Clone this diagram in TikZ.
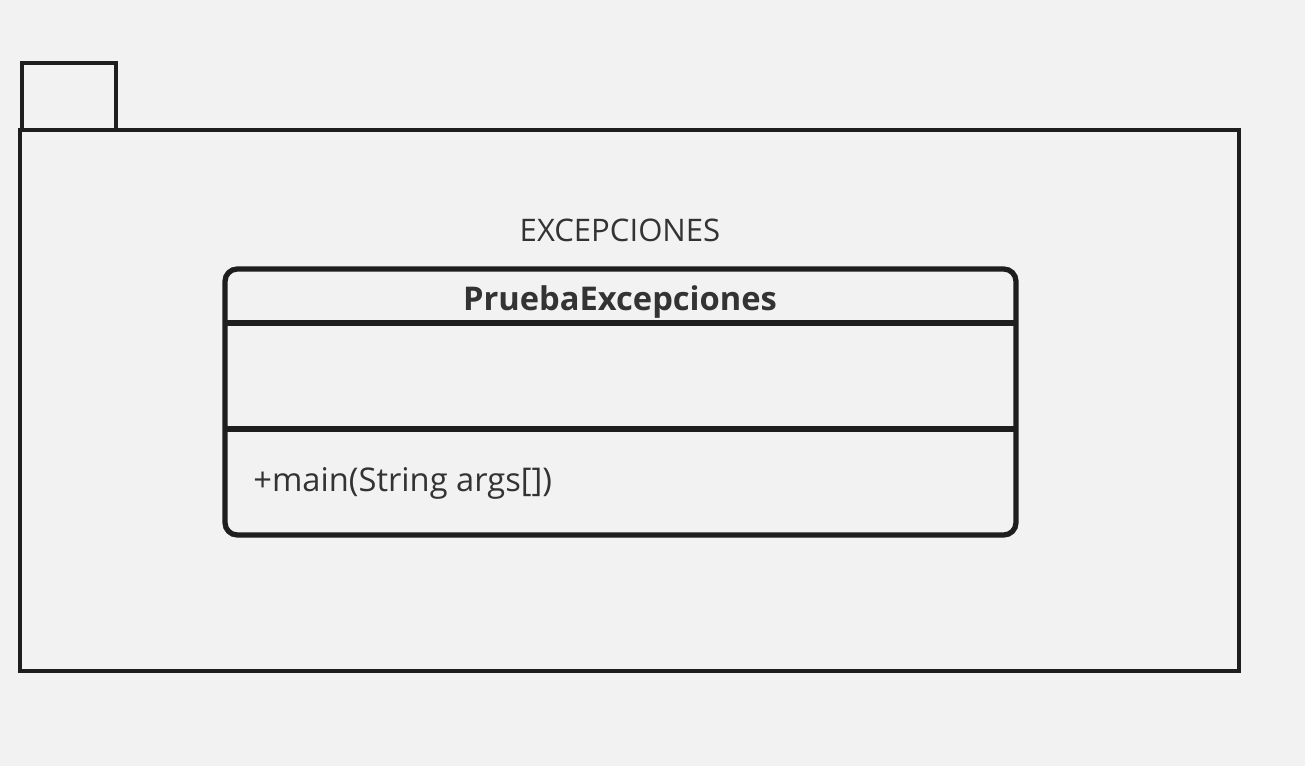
\documentclass[tikz,border=0pt]{standalone}
\usepackage{fontspec}
\setmainfont{Open Sans}
\definecolor{bg}{HTML}{F2F2F2}
\definecolor{ink}{HTML}{1E1E1E}
\definecolor{txt}{HTML}{333333}
\tikzset{
  frame/.style={draw=ink, line width=2pt},
  classbox/.style={draw=ink, line width=3pt, rounded corners=7pt},
  label/.style={text=txt, inner sep=0pt, anchor=base, font=\fontsize{18.6}{22}\selectfont}
}
\begin{document}
\begin{tikzpicture}[x=0.02cm,y=-0.02cm]
% background
\fill [bg] (0,0) rectangle (1305,766);
\useasboundingbox (0,0) rectangle (1305,766);
% package frame
\draw [frame] (22,130) -- (22,63) -- (116,63) -- (116,130);
\draw [frame] (20,130) rectangle (1239,671);
\node [label, font=\fontsize{17.7}{21}\selectfont] (pkg) at (620,242) {EXCEPCIONES};
% class
\draw [classbox] (225,269) rectangle (1016,535);
\draw [classbox, rounded corners=0pt] (225,323) -- (1016,323);
\draw [classbox, rounded corners=0pt] (225,429) -- (1016,429);
\node [label, font=\fontsize{18.6}{22}\selectfont\bfseries] (cls) at (620,311) {PruebaExcepciones};
\node [label, anchor=base west] (op) at (253,492) {+main(String args[])};
\end{tikzpicture}
\end{document}
